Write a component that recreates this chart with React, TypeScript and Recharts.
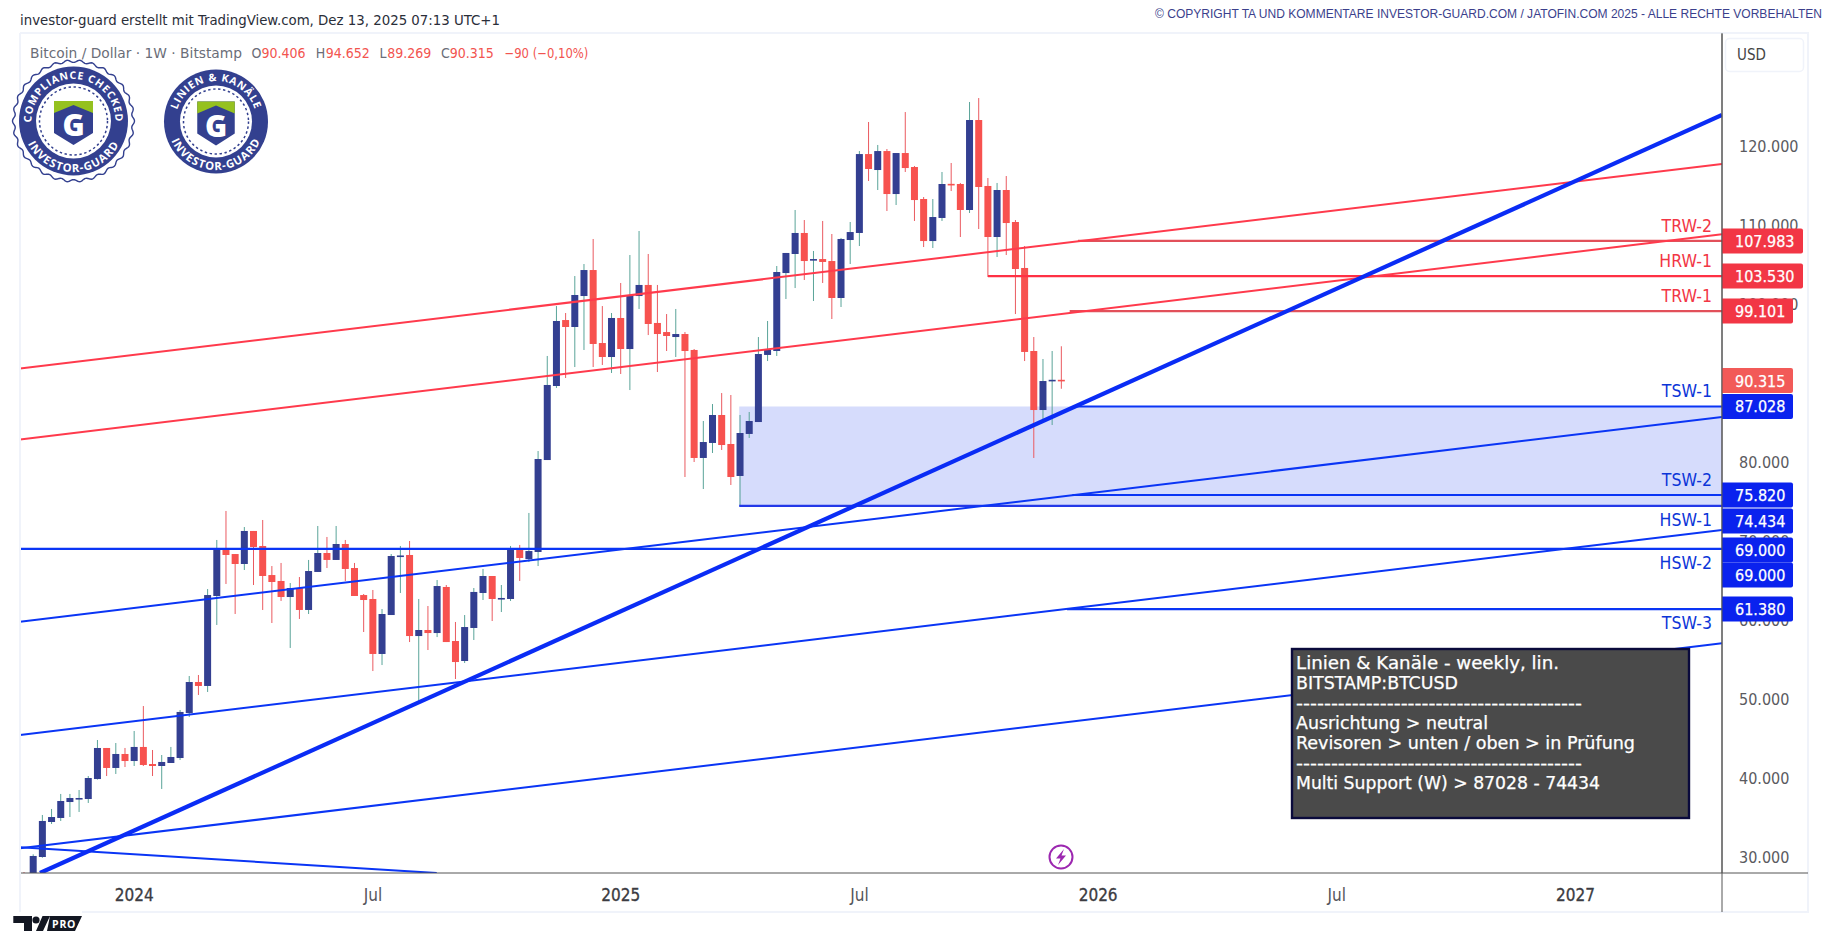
import React from 'react';
import { ComposedChart, Bar, XAxis, YAxis, ReferenceLine, ReferenceArea, ReferenceDot } from 'recharts';

const opens = [
  27500, 27100, 30000, 34430, 34940, 36960, 37450, 37340, 39870, 43800,
  41270, 43040, 42150, 43930, 41770, 41520, 41900, 42530, 48230, 52150,
  51650, 63040, 68990, 68350, 67090, 71270, 69370, 65690, 64940, 62910,
  64050, 61270, 66080, 68480, 67600, 69620, 66580, 63160, 62660, 55700,
  60630, 68100, 68230, 57970, 58735, 58350, 64180, 57340, 54810, 58990,
  63420, 65570, 62700, 62660, 68990, 67720, 68610, 80250, 89620, 97970,
  97090, 101010, 104300, 95060, 93290, 98230, 94300, 101010, 102410, 97600,
  96450, 95820, 96200, 94180, 80510, 82410, 85950, 82280, 78230, 83550,
  85060, 93550, 94050, 103920, 106330, 108990, 105620, 105690, 105440, 100760,
  108100, 108990, 118980, 116960, 119360, 113920, 119110, 117340, 113290, 107970,
  110890, 115210, 115190, 111900, 123290, 114940, 108480, 114430, 110380, 104560,
  94050, 86580, 90300, 90406,
];
const highs = [
  28100, 30340, 35320, 36080, 37980, 37980, 38480, 40250, 44810, 43800,
  44430, 43800, 45950, 49110, 43545, 42910, 43930, 48610, 52910, 53040,
  63920, 70130, 73800, 68350, 71770, 71270, 72660, 66830, 67220, 64680,
  65440, 67600, 71900, 70510, 71900, 70130, 67220, 63290, 63800, 61390,
  68350, 69370, 70000, 62660, 61770, 65060, 64430, 59750, 60630, 64050,
  66460, 65570, 64430, 69370, 69500, 73550, 81390, 93420, 99740, 98860,
  103540, 105060, 108230, 99740, 98860, 102660, 106200, 109240, 106330, 102410,
  98730, 99370, 96450, 94300, 85190, 87340, 88730, 88480, 85950, 86330,
  95820, 97850, 104810, 106460, 111900, 110630, 106710, 110510, 108860, 108360,
  110380, 119360, 123040, 120130, 119620, 119110, 124300, 117470, 113540, 113290,
  116710, 117850, 115320, 125570, 126070, 115950, 115320, 116200, 110630, 107340,
  95820, 93040, 94050, 94652,
];
const lows = [
  26500, 26800, 29900, 34180, 34560, 35060, 35700, 36840, 39800, 40250,
  40510, 41390, 41520, 41520, 40250, 38610, 41900, 42280, 47720, 50510,
  50890, 59370, 64560, 60760, 66330, 64430, 61270, 59620, 62410, 56460,
  60130, 60760, 66080, 66580, 67600, 64940, 63040, 58480, 53540, 54300,
  60630, 63420, 57210, 49750, 56200, 57840, 57210, 52530, 54560, 57470,
  62530, 59870, 61010, 62410, 64940, 67340, 66830, 80250, 89370, 90630,
  92020, 94180, 92020, 92280, 91270, 91140, 89110, 99370, 96070, 91390,
  94050, 93290, 78100, 80000, 76580, 81140, 81520, 77090, 74430, 83040,
  85060, 92780, 93420, 100630, 102020, 103040, 100380, 102660, 98100, 99620,
  105060, 107340, 115570, 114430, 111770, 112530, 116710, 110510, 107210, 107090,
  110510, 114300, 108480, 111520, 109490, 103420, 105950, 106200, 98730, 92780,
  80510, 85190, 84680, 89269,
];
const closes = [
  27000, 30130, 34560, 35060, 37090, 37470, 37470, 40000, 43800, 41270,
  43040, 42150, 43930, 41650, 41520, 42030, 42660, 48360, 52150, 51650,
  63160, 68990, 68230, 67090, 71270, 69240, 65570, 64810, 62910, 64050,
  61270, 66200, 68480, 67600, 69620, 66460, 63040, 62530, 55700, 60760,
  68100, 68170, 57970, 58735, 58350, 64300, 57210, 54680, 59110, 63550,
  65570, 62660, 62790, 68990, 67850, 68730, 80380, 89750, 97850, 97090,
  101140, 104300, 94940, 93290, 98230, 94300, 101140, 102410, 97470, 96200,
  95950, 96200, 94050, 80510, 82530, 85950, 82150, 78100, 83670, 85190,
  93670, 94180, 104050, 106460, 108990, 105440, 105690, 105320, 100760, 108230,
  109110, 118980, 117090, 119360, 113920, 119110, 117210, 113160, 107970, 111010,
  115190, 115120, 111900, 123290, 114810, 108480, 114430, 110250, 104430, 93930,
  86580, 90250, 90406, 90315,
];

const weekIndex = opens.map((_, i) => i);
const candleRows = weekIndex.map((week, i) => ({
  week,
  open: opens[i],
  close: closes[i],
  high: highs[i],
  low: lows[i],
  range: [lows[i], highs[i]],
}));

const xMin = -0.447;
const xMax = 184.96;
const yMin = 27975;
const yMax = 134304;

const timeTicks = [12, 38, 65, 91, 117, 143, 169];
const timeLabels = ['2024', 'Jul', '2025', 'Jul', '2026', 'Jul', '2027'];
const priceTicks = [30000, 40000, 50000, 60000, 70000, 80000, 100000, 110000, 120000];

// trendlines: [x1, price1, x2, price2]
const redChannels = [
  [xMin, 91834, xMax, 117720],
  [xMin, 82847, xMax, 108821],
];
const blueChannels = [
  [xMin, 59784, xMax, 85695],
  [xMin, 45443, xMax, 71392],
  [xMin, 31101, xMax, 57050],
  [xMin, 31228, 44.95, 27975],
];
const mainTrend = [1.73, 27975, xMax, 123922];

const levelNames = ['TRW-2', 'HRW-1', 'TRW-1', 'TSW-1', 'TSW-2', 'HSW-1', 'HSW-2', 'TSW-3'];
const levelValues = [107983, 103530, 99101, 87028, 75820, 74434, 69000, 61380];
const levelStarts = [114.8, 105, 113.9, 114.5, 114.2, 77.9, xMin, 113.6];
const levelNameBelow = [false, false, false, false, false, true, true, true];

const tagValues = [107983, 103530, 99101, 90315, 87028, 75820, 74434, 69000, 69000, 61380];
const tagShift = [0, 0, 0, 0, 0, 0, 15, 1, 26, 0];

const legendValues = ['90.406', '94.652', '89.269', '90.315'];
const panelLines = [
  'Linien & Kanäle - weekly, lin.',
  'BITSTAMP:BTCUSD',
  '-----------------------------------------',
  'Ausrichtung > neutral',
  'Revisoren > unten / oben > in Prüfung',
  '-----------------------------------------',
  'Multi Support (W) > 87028 - 74434',
];
const panelWidths = [263, 162, 286, 192, 339, 286, 304];

const FONT = '"DejaVu Sans Condensed", "DejaVu Sans", sans-serif';
const NAVY = '#333f91';
const RED = '#f7524f';
const LINE_RED = '#ff3a4c';
const LINE_BLUE = '#0a35f5';
const fmt = (v: number) => String(v).replace(/(\d)(\d{3})$/, '$1.$2');

const Candle = (props: any) => {
  const { x, y, width, height, payload } = props;
  const top = Math.min(y, y + height);
  const h = Math.abs(height);
  const span = payload.high - payload.low;
  const py = (v: number) => top + ((payload.high - v) / span) * h;
  const up = payload.close >= payload.open;
  const bodyTop = py(Math.max(payload.open, payload.close));
  const bodyH = Math.max(1.6, py(Math.min(payload.open, payload.close)) - bodyTop);
  const cx = x + width / 2;
  return (
    <g>
      <line x1={cx} x2={cx} y1={top} y2={top + h} stroke={up ? '#5aa499' : '#ea5a60'} strokeWidth={1} />
      <rect x={x} y={bodyTop} width={width} height={bodyH} fill={up ? NAVY : RED} />
    </g>
  );
};

const makeTag = (value: number, shift: number) => (props: any) => {
  const red = value > 88000;
  const light = value === 90315;
  const label = fmt(value);
  const w = label.length > 6 ? 81 : 71;
  const cy = props.cy + shift;
  return (
    <g>
      <path
        d={`M${props.cx},${cy - 12.5} h${w - 2} q2,0 2,2 v21 q0,2 -2,2 h${-(w - 2)} z`}
        fill={light ? '#f25a58' : red ? '#f23645' : '#0a22ee'}
      />
      <text x={props.cx + 13} y={cy + 6} fontFamily={FONT} fontSize={16} fill="#fff" stroke="#fff" strokeWidth={0.25}>
        {label}
      </text>
    </g>
  );
};

const makeName = (name: string, below: boolean, red: boolean) => (props: any) => (
  <text
    x={props.cx - 10}
    y={props.cy + (below ? 14 : -15) + 6}
    textAnchor="end"
    fontFamily={FONT}
    fontSize={17.5}
    fill={red ? '#f23645' : '#0c35d8'}
  >
    {name}
  </text>
);

const TimeTick = (props: any) => {
  const label = timeLabels[timeTicks.indexOf(props.payload.value)];
  const year = label !== 'Jul';
  return (
    <text x={props.x} y={props.y + 14} textAnchor="middle" fontFamily={FONT} fontSize={17} fill={year ? '#3c3c42' : '#55555b'} stroke={year ? '#3c3c42' : 'none'} strokeWidth={0.3}>
      {label}
    </text>
  );
};

const scallop = (cx: number, cy: number) => {
  const pts: string[] = [];
  for (let k = 0; k < 360; k++) {
    const a = (k * Math.PI) / 180;
    const r = 59.8 + 1.2 * Math.cos(a * 30);
    pts.push(`${(cx + r * Math.cos(a)).toFixed(2)},${(cy + r * Math.sin(a)).toFixed(2)}`);
  }
  return pts.join(' ');
};

const Badge = (p: {
  id: string; cx: number; cy: number; r: number; top: string; topSize: number; scalloped?: boolean; sw: number; dashR: number; whiteR: number;
}) => {
  const { id, cx, cy, r, top, topSize, scalloped, sw, dashR, whiteR } = p;
  const rt = whiteR + 4.5;
  const rb = r - 3.5;
  const sTop = cy - 20;
  const sBot = cy + 24;
  return (
    <g>
      {scalloped && <polygon points={scallop(cx, cy)} fill="#fff" stroke="#33408f" strokeWidth={1.4} />}
      <circle cx={cx} cy={cy} r={r} fill="#33408f" />
      <circle cx={cx} cy={cy} r={whiteR} fill="#fff" />
      <circle cx={cx} cy={cy} r={dashR} fill="none" stroke="#33408f" strokeWidth={1.5} strokeDasharray="2.4 2.6" />
      <path
        d={`M${cx - sw / 2},${sTop} H${cx + sw / 2} V${sBot - 12} L${cx},${sBot} L${cx - sw / 2},${sBot - 12} Z`}
        fill="#33408f"
      />
      <path
        d={`M${cx - sw / 2},${sTop} H${cx + sw / 2} V${sTop + 12} L${cx},${sTop + 4} L${cx - sw / 2},${sTop + 12} Z`}
        fill="#95c11f"
      />
      <text x={cx} y={cy + 15} textAnchor="middle" fontFamily='"Open Sans", sans-serif' fontWeight={800} fontSize={30} fill="#fff">
        G
      </text>
      <path id={`${id}t`} d={`M${cx},${cy + rt} A${rt},${rt} 0 1 1 ${cx},${cy - rt} A${rt},${rt} 0 1 1 ${cx},${cy + rt}`} fill="none" />
      <path id={`${id}b`} d={`M${cx},${cy - rb} A${rb},${rb} 0 1 0 ${cx},${cy + rb} A${rb},${rb} 0 1 0 ${cx},${cy - rb}`} fill="none" />
      <text fontFamily='"Open Sans", sans-serif' fontWeight={700} fontSize={topSize} fill="#fff" letterSpacing={0.8}>
        <textPath href={`#${id}t`} startOffset="50%" textAnchor="middle">{top}</textPath>
      </text>
      <text fontFamily='"Open Sans", sans-serif' fontWeight={700} fontSize={topSize + 0.7} fill="#fff" letterSpacing={1}>
        <textPath href={`#${id}b`} startOffset="50%" textAnchor="middle">INVESTOR-GUARD</textPath>
      </text>
    </g>
  );
};

export default function App() {
  return (
    <div style={{ position: 'absolute', left: 0, top: 0, width: 1828, height: 937, background: '#fff', overflow: 'hidden' }}>
      <ComposedChart
        width={1828}
        height={937}
        data={candleRows}
        margin={{ top: 33, right: 20, bottom: 25, left: 20 }}
        style={{ position: 'absolute', left: 0, top: 0 }}
      >
        <XAxis
          type="number"
          dataKey="week"
          domain={[xMin, xMax]}
          allowDataOverflow
          ticks={timeTicks}
          interval={0}
          height={39}
          tickLine={false}
          tickMargin={8}
          stroke="#555"
          tick={TimeTick}
        />
        <YAxis
          orientation="right"
          domain={[yMin, yMax]}
          allowDataOverflow
          ticks={priceTicks}
          interval={0}
          width={86}
          tickLine={false}
          tickMargin={11}
          stroke="#555"
          tick={{ fill: '#5a5a60', fontSize: 16, fontFamily: FONT }}
          tickFormatter={fmt}
        />
        <ReferenceArea x1={levelStarts[5]} x2={xMax} y1={levelValues[5]} y2={levelValues[3]} fill="#d6dcfc" fillOpacity={1} stroke="none" ifOverflow="hidden" />
        {levelValues.map((v, i) => (
          <ReferenceLine
            key={`lv${i}`}
            segment={[{ x: levelStarts[i], y: v }, { x: xMax, y: v }]}
            stroke={v > 88000 ? (v === 103530 ? '#ff3044' : '#e2505a') : i === 5 ? '#2438e8' : LINE_BLUE}
            strokeWidth={2.2}
            ifOverflow="hidden"
          />
        ))}
        {redChannels.map((l, i) => (
          <ReferenceLine key={`rc${i}`} segment={[{ x: l[0], y: l[1] }, { x: l[2], y: l[3] }]} stroke={LINE_RED} strokeWidth={2} ifOverflow="hidden" />
        ))}
        {blueChannels.map((l, i) => (
          <ReferenceLine key={`bc${i}`} segment={[{ x: l[0], y: l[1] }, { x: l[2], y: l[3] }]} stroke={LINE_BLUE} strokeWidth={2} ifOverflow="hidden" />
        ))}
        <ReferenceLine segment={[{ x: mainTrend[0], y: mainTrend[1] }, { x: mainTrend[2], y: mainTrend[3] }]} stroke="#0a2cf5" strokeWidth={4.2} ifOverflow="hidden" />
        <Bar dataKey="range" barSize={7} isAnimationActive={false} shape={Candle} />
      </ComposedChart>

      {/* second layer with the same axes and plot box: price tags and level names sit above the price scale */}
      <ComposedChart
        width={1828}
        height={937}
        data={candleRows}
        margin={{ top: 33, right: 20, bottom: 25, left: 20 }}
        style={{ position: 'absolute', left: 0, top: 0, pointerEvents: 'none' }}
      >
        <XAxis type="number" dataKey="week" domain={[xMin, xMax]} allowDataOverflow height={39} hide={false} axisLine={false} tickLine={false} tick={false} />
        <YAxis orientation="right" domain={[yMin, yMax]} allowDataOverflow width={86} axisLine={false} tickLine={false} tick={false} />
        {levelNames.map((n, i) => (
          <ReferenceDot key={`nm${i}`} x={xMax} y={levelValues[i]} r={0} shape={makeName(n, levelNameBelow[i], levelValues[i] > 88000)} />
        ))}
        {tagValues.map((v, i) => (
          <ReferenceDot key={`tg${i}`} x={xMax} y={v} r={0} shape={makeTag(v, tagShift[i])} />
        ))}
      </ComposedChart>

      <svg width={1828} height={937} style={{ position: 'absolute', left: 0, top: 0, pointerEvents: 'none' }}>
        {/* frame */}
        <path d="M20,33 H1808 V912 H82" fill="none" stroke="#f0f3fa" strokeWidth={2} />
        <path d="M20,33 V912" fill="none" stroke="#f0f3fa" strokeWidth={2} />
        <path d="M1722,33 V912 M1722,873 H1808" fill="none" stroke="#555" strokeWidth={1} />

        {/* header */}
        <text x={20} y={25} fontFamily={FONT} fontSize={14} fill="#2a2e39" textLength={480} lengthAdjust="spacingAndGlyphs">
          investor-guard erstellt mit TradingView.com, Dez 13, 2025 07:13 UTC+1
        </text>
        <text x={1155} y={18} fontFamily='"Liberation Sans", sans-serif' fontSize={12} fill="#3b3f8c" textLength={667} lengthAdjust="spacingAndGlyphs">
          © COPYRIGHT TA UND KOMMENTARE INVESTOR-GUARD.COM / JATOFIN.COM 2025 - ALLE RECHTE VORBEHALTEN
        </text>

        {/* legend */}
        <g fontFamily={FONT} fontSize={14}>
          <text x={30} y={58} fill="#6a6d78" textLength={212} lengthAdjust="spacingAndGlyphs">Bitcoin / Dollar · 1W · Bitstamp</text>
          <text x={251.4} y={58} fill="#6a6d78">O</text>
          <text x={261.4} y={58} fill="#f2544f">{legendValues[0]}</text>
          <text x={315.7} y={58} fill="#6a6d78">H</text>
          <text x={325.7} y={58} fill="#f2544f">{legendValues[1]}</text>
          <text x={379.6} y={58} fill="#6a6d78">L</text>
          <text x={387.3} y={58} fill="#f2544f">{legendValues[2]}</text>
          <text x={440.9} y={58} fill="#6a6d78">C</text>
          <text x={449.7} y={58} fill="#f2544f">{legendValues[3]}</text>
          <text x={504.4} y={58} fill="#f2544f" textLength={84} lengthAdjust="spacingAndGlyphs">−90 (−0,10%)</text>
        </g>

        {/* USD button */}
        <rect x={1725.5} y={38.5} width={78} height={33} rx={4} fill="#fff" stroke="#f0f3fa" strokeWidth={1.5} />
        <text x={1737} y={60} fontFamily={FONT} fontSize={15} fill="#444">USD</text>

        {/* badges */}
        <Badge id="bA" cx={73.5} cy={121} r={54.5} top="COMPLIANCE CHECKED" topSize={10.5} scalloped sw={39} dashR={34} whiteR={37.5} />
        <Badge id="bB" cx={216} cy={121.5} r={52} top="LINIEN & KANÄLE" topSize={10.5} sw={37.5} dashR={32.5} whiteR={36} />

        {/* panel */}
        <rect x={1292} y={649} width={397} height={169} fill="#4a4a4a" stroke="#0a0a3c" strokeWidth={2.4} />
        {panelLines.map((t, i) => (
          <text
            key={i}
            x={1296}
            y={669 + i * 20}
            fontFamily={FONT}
            fontSize={18}
            fill="#fff"
            stroke="#fff"
            strokeWidth={0.25}
            textLength={panelWidths[i]}
            lengthAdjust="spacingAndGlyphs"
          >
            {t}
          </text>
        ))}

        {/* lightning */}
        <circle cx={1061} cy={857} r={11.5} fill="#fff" stroke="#9c27b0" strokeWidth={2} />
        <path d="M1064,849 L1056,858.5 H1060.5 L1058,865 L1066,855.5 H1061.5 Z" fill="#9c27b0" />

        {/* TV logo */}
        <path d="M13.3,916 H32 V931 H24 V923 H13.3 Z" fill="#131722" />
        <circle cx={36} cy={920} r={3.6} fill="#131722" />
        <path d="M36,931 L42.5,916 H50 L43,931 Z M50,916 H82 L75,931 H47 Z" fill="#131722" />
        <text x={52} y={928} fontFamily='"Open Sans", sans-serif' fontWeight={700} fontSize={10.5} fill="#fff" letterSpacing={0.8}>PRO</text>
      </svg>
    </div>
  );
}
